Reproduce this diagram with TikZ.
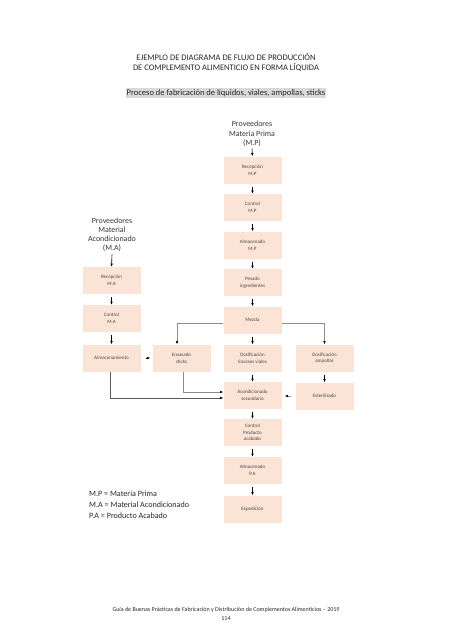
\documentclass[tikz,border=0pt]{standalone}
\usepackage{fontspec}
\setmainfont{Carlito}
\usetikzlibrary{arrows.meta}
\definecolor{boxfill}{HTML}{FBE4D5}
\definecolor{boxtext}{HTML}{454545}
\definecolor{hl}{HTML}{D9D9D9}
\definecolor{conn}{HTML}{8C8C8C}
\definecolor{conndark}{HTML}{5A5A5A}
\tikzset{
  stepbox/.style={draw=none, fill=boxfill, minimum width=58pt, minimum height=27pt, inner sep=1pt, align=center, text=boxtext, font=\fontsize{5}{6.6}\selectfont},
  flow/.style={-{Latex[length=3.2pt,width=2.6pt]}, line width=0.6pt, black},
  gflow/.style={-{Latex[length=3.2pt,width=2.6pt,black]}, line width=0.6pt, conn},
  dflow/.style={-{Latex[length=3.2pt,width=2.6pt,black]}, line width=0.6pt, conndark},
  srcnode/.style={align=center, text=black!80, font=\fontsize{7.9}{9.2}\selectfont, inner sep=0pt},
}
\begin{document}
\begin{tikzpicture}[x=1pt,y=-1pt]
\useasboundingbox (0,0) rectangle (452,640);
% titles
\node[align=center, font=\fontsize{8.5}{10}\selectfont, text=black!85] (title) at (226,63) {EJEMPLO DE DIAGRAMA DE FLUJO DE PRODUCCIÓN\\DE COMPLEMENTO ALIMENTICIO EN FORMA LÍQUIDA};
\node[fill=hl, inner xsep=0.5pt, inner ysep=1pt, font=\fontsize{8.5}{9}\selectfont, text=black!85] (sub) at (226,93) {Proceso de fabricación de líquidos, viales, ampollas, sticks};
% sources
\node[srcnode] (pmp) at (252,134) {Proveedores\\Materia Prima\\(M.P)};
\node[srcnode] (pma) at (112,235) {Proveedores\\Material\\Acondicionado\\(M.A)};
% main column
\node[stepbox] (recmp) at (252.5,170) {Recepción\\M.P};
\node[stepbox] (conmp) at (252.5,207.5) {Control\\M.P};
\node[stepbox] (almmp) at (252.5,245) {Almacenado\\M.P};
\node[stepbox] (pes) at (252.5,282.5) {Pesado\\ingredientes};
\node[stepbox] (mez) at (252.5,320) {Mezcla};
\node[stepbox] (dosv) at (252.5,358) {Dosificación\\Envases viales};
\node[stepbox] (acon) at (252.5,395.5) {Acondicionado\\secundario};
\node[stepbox] (cpa) at (252.5,432.5) {Control\\Producto\\acabado};
\node[stepbox] (alpa) at (252.5,470.5) {Almacenado\\P.A};
\node[stepbox] (expd) at (252.5,509) {Expedición};
% left column
\node[stepbox] (recma) at (111.5,280.5) {Recepción\\M.A};
\node[stepbox] (conma) at (111.5,318.5) {Control\\M.A};
\node[stepbox] (alm) at (111.5,358) {Almacenamiento};
% others
\node[stepbox] (env) at (181.5,358) {Envasado\\sticks};
\node[stepbox] (dosa) at (324.5,358) {Dosificación\\ampollas};
\node[stepbox] (est) at (324.5,396) {Esterilizado};
% legend
\node[anchor=north west, align=left, inner sep=0pt, font=\fontsize{8.1}{11}\selectfont, text=black!85] (leg) at (89,491) {M.P = Materia Prima\\M.A = Material Acondicionado\\P.A = Producto Acabado};
% footer
\node[align=center, inner sep=0pt, font=\fontsize{6}{9}\selectfont, text=black!85] (foot) at (226,614) {Guía de Buenas Prácticas de Fabricación y Distribución de Complementos Alimenticios – 2019\\114};
% connectors main
\draw[flow] (pmp.south) ++(0,2) -- (recmp.north);
\foreach \a/\b in {recmp/conmp, conmp/almmp, almmp/pes, pes/mez, mez/dosv, dosv/acon, acon/cpa, cpa/alpa, alpa/expd, recma/conma, conma/alm, dosa/est}
  \draw[flow, shorten <=3pt] (\a.south) -- (\b.north);
\draw[flow] (pma.south) ++(0,2) -- (recma.north);
% branches
\draw[gflow] (mez.west |- 0,323) -| (env.north -| 177,0);
\draw[gflow] (mez.east |- 0,323) -| (dosa.north);
\draw[flow, shorten <=5pt, shorten >=2pt] (alm.east) -- (env.west);
\draw[gflow] (env.south -| 183,0) |- (acon.west |- 0,392);
\draw[dflow] (alm.south -| 110,0) |- (acon.west |- 0,398);
\draw[gflow, shorten <=4pt, shorten >=3pt] (est.west) -- (acon.east |- est.west);
\end{tikzpicture}
\end{document}
